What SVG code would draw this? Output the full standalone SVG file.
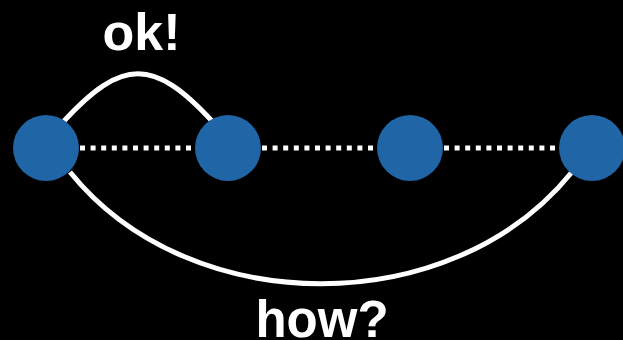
<svg xmlns="http://www.w3.org/2000/svg" width="623" height="340" viewBox="0 0 623 340">
  <style>
    .node { fill: #2065a6; }
    .dot { stroke: #ffffff; stroke-width: 5; stroke-dasharray: 5 5.6; fill: none; }
    .arc { stroke: #ffffff; stroke-width: 5; fill: none; }
    .label { fill: #ffffff; font-family: "Liberation Sans", Arial, sans-serif; font-weight: bold; text-anchor: middle; }
  </style>
  <rect x="0" y="0" width="623" height="340" fill="#000000"/>
  <g id="connectors">
    <line class="dot" x1="80" y1="148" x2="195" y2="148"/>
    <line class="dot" x1="262" y1="148" x2="377" y2="148"/>
    <line class="dot" x1="444" y1="148" x2="559" y2="148"/>
    <path class="arc" d="M64,121 C122,58 154,58 212,121"/>
    <path class="arc" d="M70,172 C190,321 452,321 572,172"/>
  </g>
  <g id="node1"><circle class="node" cx="46" cy="148" r="33"/></g>
  <g id="node2"><circle class="node" cx="228" cy="148" r="33"/></g>
  <g id="node3"><circle class="node" cx="410" cy="148" r="33"/></g>
  <g id="node4"><circle class="node" cx="592" cy="148" r="33"/></g>
  <text class="label" x="141.5" y="50" font-size="52">ok!</text>
  <text class="label" x="322" y="337" font-size="51">how?</text>
</svg>
